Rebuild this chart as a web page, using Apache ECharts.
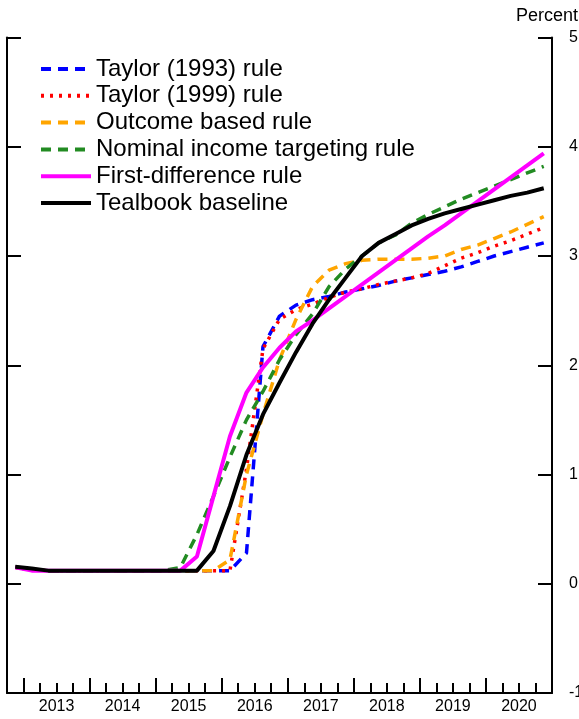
<!DOCTYPE html>
<html>
<head>
<meta charset="utf-8">
<script src="https://cdn.jsdelivr.net/npm/echarts@6/dist/echarts.min.js"></script>
<style>
  html, body { margin: 0; padding: 0; background: #fff; }
  #chart { width: 579px; height: 719px; }
</style>
</head>
<body>
<div id="chart"></div>
<script>
// quarters 2012Q4 .. 2020Q4
var quarters = [];
for (var y = 2012; y <= 2020; y++) {
    for (var q = 1; q <= 4; q++) {
        if (y === 2012 && q < 4) continue;
        quarters.push(y + 'Q' + q);
    }
}
var yearLabels = [2013, 2014, 2015, 2016, 2017, 2018, 2019, 2020];

var taylor93 = [0.15, 0.13, 0.12, 0.12, 0.12, 0.12, 0.12, 0.12, 0.12, 0.12, 0.12, 0.12, 0.12, 0.12,
    0.28, 2.17, 2.45, 2.55, 2.6, 2.63, 2.67, 2.7, 2.73, 2.77, 2.8, 2.83, 2.86, 2.9, 2.95, 3.0, 3.04, 3.08, 3.12];
var taylor99 = [0.15, 0.13, 0.12, 0.12, 0.12, 0.12, 0.12, 0.12, 0.12, 0.12, 0.12, 0.12, 0.12, 0.12,
    1.05, 2.15, 2.42, 2.51, 2.56, 2.62, 2.67, 2.7, 2.74, 2.77, 2.8, 2.84, 2.91, 2.98, 3.03, 3.09, 3.14, 3.2, 3.26];
var outcome = [0.15, 0.13, 0.12, 0.12, 0.12, 0.12, 0.12, 0.12, 0.12, 0.12, 0.12, 0.12, 0.12, 0.22,
    1.0, 1.55, 2.05, 2.42, 2.72, 2.87, 2.93, 2.96, 2.97, 2.97, 2.97, 2.98, 3.0, 3.06, 3.1, 3.16, 3.22, 3.29, 3.36];
var nominal = [0.15, 0.13, 0.12, 0.12, 0.12, 0.12, 0.12, 0.12, 0.12, 0.12, 0.15, 0.45, 0.8, 1.16,
    1.5, 1.76, 2.05, 2.28, 2.47, 2.72, 2.88, 3.0, 3.12, 3.19, 3.3, 3.38, 3.45, 3.52, 3.58, 3.64, 3.7, 3.76, 3.82];
var firstDiff = [0.15, 0.12, 0.12, 0.12, 0.12, 0.12, 0.12, 0.12, 0.12, 0.12, 0.12, 0.25, 0.8, 1.35,
    1.75, 1.98, 2.16, 2.31, 2.41, 2.52, 2.63, 2.74, 2.85, 2.96, 3.07, 3.18, 3.28, 3.39, 3.5, 3.61, 3.72, 3.83, 3.94];
var tealbook = [0.155, 0.14, 0.12, 0.12, 0.12, 0.12, 0.12, 0.12, 0.12, 0.12, 0.12, 0.12, 0.3, 0.71,
    1.18, 1.55, 1.84, 2.12, 2.38, 2.6, 2.8, 3.0, 3.12, 3.2, 3.28, 3.34, 3.39, 3.43, 3.47, 3.51, 3.55, 3.58, 3.62];

function qTime(s) {
    var yr = parseInt(s.slice(0, 4)), qq = parseInt(s.slice(5));
    return yr + (qq - 0.5) / 4;
}
var times = quarters.map(qTime);
function pairs(vals) { return vals.map(function (v, i) { return [times[i], v]; }); }

var qTicks = [];
for (var t = 2013; t < 2021; t += 0.25) if (t % 1 !== 0) qTicks.push(t);

var chart = echarts.init(document.getElementById('chart'));
var font = 'Liberation Sans, Arial, sans-serif';

function line(name, data, color, width, type) {
    return {
        name: name, type: 'line', data: pairs(data), symbol: 'none',
        xAxisIndex: 0, yAxisIndex: 0,
        lineStyle: { color: color, width: width, type: type },
        itemStyle: { color: color }
    };
}

chart.setOption({
    backgroundColor: '#fff',
    animation: false,
    textStyle: { fontFamily: font },
    grid: { left: 7, right: 27, top: 37.5, bottom: 26, containLabel: false, outerBoundsMode: 'none' },
    graphic: [{
        type: 'text', right: 1, top: 7,
        style: { text: 'Percent', fontSize: 18, fontFamily: font, fill: '#000' }
    }],
    legend: {
        orient: 'vertical', left: 34, top: 52, itemWidth: 50, itemHeight: 14, itemGap: 2.8,
        itemStyle: { opacity: 0 },
        lineStyle: { width: 4 },
        textStyle: { fontSize: 24, fontFamily: font, color: '#000', padding: [0, 0, 0, 0] },
        data: ['Taylor (1993) rule', 'Taylor (1999) rule', 'Outcome based rule',
            'Nominal income targeting rule', 'First-difference rule', 'Tealbook baseline']
    },
    xAxis: [{
        type: 'value', min: 2012.75, max: 2021, position: 'bottom',
        splitLine: { show: false },
        axisLine: { onZero: false, lineStyle: { color: '#000', width: 2 } },
        axisTick: { inside: true, length: 15, customValues: yearLabels, lineStyle: { color: '#000', width: 2 } },
        axisLabel: {
            customValues: yearLabels.map(function (v) { return v + 0.5; }),
            formatter: function (v) { return String(Math.floor(v)); },
            fontSize: 16, color: '#000', margin: 6
        }
    }, {
        type: 'value', min: 2012.75, max: 2021, position: 'bottom',
        splitLine: { show: false },
        axisLine: { show: false, onZero: false },
        axisTick: { inside: true, length: 10, customValues: qTicks, lineStyle: { color: '#000', width: 2 } },
        axisLabel: { show: false }
    }],
    yAxis: [{
        type: 'value', min: -1, max: 5, interval: 1, position: 'left',
        splitLine: { show: false },
        axisLine: { show: true, onZero: false, lineStyle: { color: '#000', width: 2 } },
        axisTick: { show: true, inside: true, length: 14, lineStyle: { color: '#000', width: 2 } },
        axisLabel: { show: false }
    }, {
        type: 'value', min: -1, max: 5, interval: 1, position: 'right',
        splitLine: { show: false },
        axisLine: { show: true, onZero: false, lineStyle: { color: '#000', width: 2 } },
        axisTick: { show: true, inside: true, length: 14, lineStyle: { color: '#000', width: 2 } },
        axisLabel: { fontSize: 16, color: '#000', margin: 17 }
    }],
    series: [
        line('Taylor (1993) rule', taylor93, '#0000ff', 3.5, [10, 7]),
        line('Taylor (1999) rule', taylor99, '#ff0000', 3.5, [3, 6]),
        line('Outcome based rule', outcome, '#ffa500', 3.5, [10, 7]),
        line('Nominal income targeting rule', nominal, '#228b22', 3.5, [10, 7]),
        line('First-difference rule', firstDiff, '#ff00ff', 4, 'solid'),
        line('Tealbook baseline', tealbook, '#000000', 4, 'solid')
    ]
});
</script>
</body>
</html>
